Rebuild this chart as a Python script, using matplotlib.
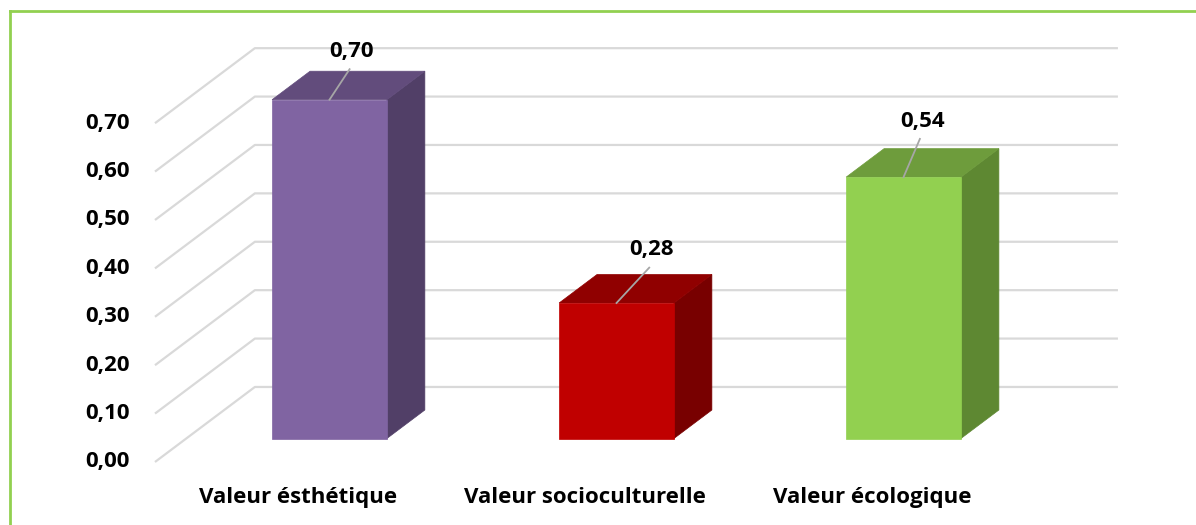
import matplotlib.pyplot as plt
from matplotlib.patches import Polygon, Rectangle
from matplotlib.lines import Line2D

# données
categories = ['Valeur ésthétique', 'Valeur socioculturelle', 'Valeur écologique']
valeurs = [0.70, 0.28, 0.54]
ticks = [0.0, 0.1, 0.2, 0.3, 0.4, 0.5, 0.6, 0.7]
tick_labels = ['0,00', '0,10', '0,20', '0,30', '0,40', '0,50', '0,60', '0,70']
value_labels = ['0,70', '0,28', '0,54']

# couleurs (face avant, dessus, côté)
faces = ['#8064A2', '#C00000', '#92D050']
tops = ['#624C7C', '#900000', '#6E9C3C']
sides = ['#513F67', '#780000', '#5E8832']

plt.rcParams['font.family'] = ['Open Sans', 'DejaVu Sans']
FS = 16

fig = plt.figure(figsize=(11.96, 5.25), dpi=100)
ax = fig.add_axes([0, 0, 1, 1])
ax.set_xlim(-1.148, 3.019)
ax.set_ylim(-0.1787, 0.906)
ax.axis('off')

# géométrie de la perspective (unités : catégorie en x, valeur en y)
DX, DY = 0.348, 0.155      # profondeur totale du plancher
z_bar = 0.313              # plan des barres
z_depth = 0.38             # épaisseur des barres
x_left = -0.608
x_right = 2.747
w = 0.40

# quadrillage : diagonale à gauche puis ligne sur le mur du fond
for t in ticks:
    y_front = t - z_bar * DY
    y_back = t + (1 - z_bar) * DY
    ax.plot([x_left, x_left + DX, x_right], [y_front, y_back, y_back],
            color='#D9D9D9', lw=1.6, zorder=1, solid_capstyle='butt')

for t, lab in zip(ticks, tick_labels):
    ax.text(-0.695, t - z_bar * DY, lab, ha='right', va='center',
            fontsize=FS, fontweight='bold', color='#000000')

# barres 3D
bdx, bdy = z_depth * DX, z_depth * DY
for i, v in enumerate(valeurs):
    x0, x1 = i - w / 2, i + w / 2
    ax.add_patch(Polygon([(x1, 0), (x1 + bdx, bdy), (x1 + bdx, v + bdy), (x1, v)],
                         closed=True, facecolor=sides[i], edgecolor=sides[i], lw=0.5, zorder=3))
    ax.add_patch(Polygon([(x0, v), (x1, v), (x1 + bdx, v + bdy), (x0 + bdx, v + bdy)],
                         closed=True, facecolor=tops[i], edgecolor=tops[i], lw=0.5, zorder=3))
    ax.add_patch(Rectangle((x0, 0), w, v, facecolor=faces[i], edgecolor=faces[i],
                           lw=0.5, zorder=4))

# étiquettes de valeur avec ligne de rappel
lab_dx = [0.078, 0.122, 0.065]
lab_dy = [0.100, 0.110, 0.116]
for i, v in enumerate(valeurs):
    lx, ly = i + lab_dx[i], v + lab_dy[i]
    ax.plot([i, lx - 0.008], [v, ly - 0.037], color='#A6A6A6', lw=1.3, zorder=5)
    ax.text(lx, ly, value_labels[i], ha='center', va='center',
            fontsize=FS, fontweight='bold', zorder=6)

# noms des catégories sur le plan avant
for i, c in enumerate(categories):
    ax.text(i - z_bar * DX, -0.121, c, ha='center', va='center',
            fontsize=FS, fontweight='bold')

# cadre vert
W, H = 1196, 525
fig.add_artist(Line2D([10 / W, 10 / W], [0, 1 - 11 / H], transform=fig.transFigure,
                      color='#92D050', lw=2))
fig.add_artist(Line2D([10 / W, 1], [1 - 11 / H, 1 - 11 / H], transform=fig.transFigure,
                      color='#92D050', lw=2))

fig.savefig('out.png', dpi=100)
